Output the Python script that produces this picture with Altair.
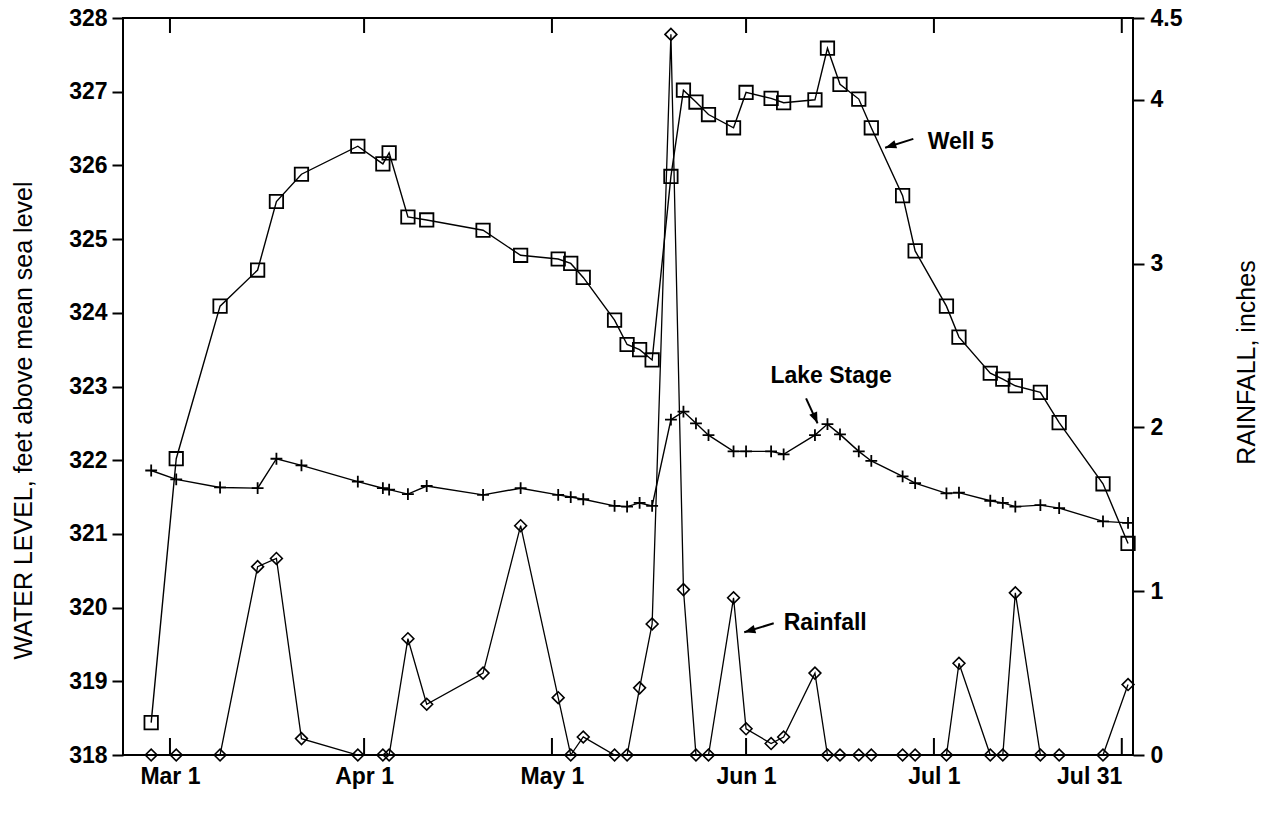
import altair as alt
import pandas as pd

# ---------------- data ----------------
dates = [
    "1983-02-26", "1983-03-02", "1983-03-09", "1983-03-15", "1983-03-18", "1983-03-22",
    "1983-03-31", "1983-04-04", "1983-04-05", "1983-04-08", "1983-04-11", "1983-04-20",
    "1983-04-26", "1983-05-02", "1983-05-04", "1983-05-06", "1983-05-11", "1983-05-13",
    "1983-05-15", "1983-05-17", "1983-05-20", "1983-05-22", "1983-05-24", "1983-05-26",
    "1983-05-30", "1983-06-01", "1983-06-05", "1983-06-07", "1983-06-12", "1983-06-14",
    "1983-06-16", "1983-06-19", "1983-06-21", "1983-06-26", "1983-06-28", "1983-07-03",
    "1983-07-05", "1983-07-10", "1983-07-12", "1983-07-14", "1983-07-18", "1983-07-21",
    "1983-07-28", "1983-08-01",
]
well5 = [
    318.44, 322.02, 324.09, 324.58, 325.51, 325.88,
    326.26, 326.02, 326.17, 325.30, 325.26, 325.12,
    324.78, 324.73, 324.67, 324.48, 323.90, 323.57,
    323.50, 323.36, 325.85, 327.02, 326.86, 326.69,
    326.51, 326.99, 326.91, 326.85, 326.89, 327.59,
    327.10, 326.90, 326.51, 325.59, 324.84, 324.09,
    323.67, 323.18, 323.10, 323.01, 322.92, 322.51,
    321.68, 320.87,
]
lake_stage = [
    321.86, 321.74, 321.63, 321.62, 322.02, 321.93,
    321.71, 321.62, 321.60, 321.54, 321.65, 321.53,
    321.62, 321.53, 321.50, 321.47, 321.38, 321.37,
    321.42, 321.38, 322.55, 322.66, 322.50, 322.34,
    322.12, 322.12, 322.12, 322.08, 322.34, 322.49,
    322.35, 322.12, 321.99, 321.78, 321.69, 321.55,
    321.56, 321.45, 321.42, 321.37, 321.39, 321.35,
    321.17, 321.15,
]
rainfall = [
    0.00, 0.00, 0.00, 1.15, 1.20, 0.10,
    0.00, 0.00, 0.00, 0.71, 0.31, 0.50,
    1.40, 0.35, 0.00, 0.11, 0.00, 0.00,
    0.41, 0.80, 4.40, 1.01, 0.00, 0.00,
    0.96, 0.16, 0.07, 0.11, 0.50, 0.00,
    0.00, 0.00, 0.00, 0.00, 0.00, 0.00,
    0.56, 0.00, 0.00, 0.99, 0.00, 0.00,
    0.00, 0.43,
]

tick_dates = ["1983-03-01", "1983-04-01", "1983-05-01", "1983-06-01", "1983-07-01", "1983-07-31"]
level_ticks = [318, 319, 320, 321, 322, 323, 324, 325, 326, 327, 328]
rain_ticks = [0, 1, 2, 3, 4, 4.5]

# labels placed in the plot (text, anchor date, value)
label_text = ["Well 5", "Lake Stage"]
label_date = ["1983-06-30T00:00:00Z", "1983-06-14T14:00:00Z"]
label_value = [326.32, 323.14]
label_align = ["left", "center"]

rain_label_text = ["Rainfall"]
rain_label_date = ["1983-06-07T00:00:00Z"]
rain_label_value = [0.806]

# arrows: tail -> head
arrow_tail_date = ["1983-06-27T17:00:00Z", "1983-06-10T14:00:00Z"]
arrow_tail_value = [326.36, 322.84]
arrow_head_date = ["1983-06-23T05:00:00Z", "1983-06-12T10:00:00Z"]
arrow_head_value = [326.24, 322.50]
arrow_angle = [252, 157]

rain_arrow_tail_date = ["1983-06-05T10:00:00Z"]
rain_arrow_tail_value = [0.804]
rain_arrow_head_date = ["1983-05-31T17:00:00Z"]
rain_arrow_head_value = [0.749]
rain_arrow_angle = [253]

# ---------------- tables ----------------
df = pd.DataFrame({"date": dates, "well5": well5, "lake": lake_stage, "rain": rainfall})
ticks_df = pd.DataFrame({"date": tick_dates})
labels_df = pd.DataFrame({"date": label_date, "value": label_value, "text": label_text, "align": label_align})
arrows_df = pd.DataFrame({"d1": arrow_tail_date, "v1": arrow_tail_value,
                          "d2": arrow_head_date, "v2": arrow_head_value, "angle": arrow_angle})
rain_labels_df = pd.DataFrame({"date": rain_label_date, "value": rain_label_value, "text": rain_label_text})
rain_arrows_df = pd.DataFrame({"d1": rain_arrow_tail_date, "v1": rain_arrow_tail_value,
                               "d2": rain_arrow_head_date, "v2": rain_arrow_head_value,
                               "angle": rain_arrow_angle})

W, H = 1010, 737
FONT = "Liberation Sans"

xscale = alt.Scale(type="utc",
                   domain=[alt.DateTime(year=1983, month=2, date=21, hours=12, utc=True),
                           alt.DateTime(year=1983, month=8, date=1, hours=19, utc=True)])
lscale = alt.Scale(domain=[318, 328], nice=False, zero=False)
rscale = alt.Scale(domain=[0, 4.5], nice=False, zero=False)

tick_vals = [alt.DateTime(year=1983, month=int(d[5:7]), date=int(d[8:10]), utc=True) for d in tick_dates]

x_axis = alt.Axis(values=tick_vals, labelExpr="utcFormat(datum.value, '%b %-d')",
                  ticks=False, domain=False, grid=False, labelPadding=10, labelFlush=20,
                  labelFontSize=23, labelFont=FONT, labelFontWeight="bold", labelColor="black",
                  title="")
left_axis = alt.Axis(values=level_ticks, format="d", orient="left", grid=False, tickSize=11,
                     tickWidth=2, tickColor="black", domain=False, labelPadding=5,
                     labelFontSize=23, labelFont=FONT, labelFontWeight="bold", labelColor="black",
                     title="WATER LEVEL, feet above mean sea level", titleFont=FONT,
                     titleFontSize=25, titleFontWeight="normal", titleColor="black",
                     titlePadding=32, titleY=402)
right_axis = alt.Axis(values=rain_ticks, format=".1~f", orient="right", grid=False, tickSize=11,
                      tickWidth=2, tickColor="black", domain=False, labelPadding=6,
                      labelFontSize=23, labelFont=FONT, labelFontWeight="bold", labelColor="black",
                      title="RAINFALL, inches", titleFont=FONT, titleFontSize=25,
                      titleFontWeight="normal", titleColor="black", titleAngle=270,
                      titlePadding=78, titleY=344)


def X(f):
    return alt.X(f, type="temporal", scale=xscale, axis=x_axis)


def YL(f):
    return alt.Y(f, type="quantitative", scale=lscale, axis=left_axis)


def YR(f):
    return alt.Y(f, type="quantitative", scale=rscale, axis=right_axis)


base = alt.Chart(df)

well_line = base.mark_line(color="black", strokeWidth=1.4).encode(x=X("date"), y=YL("well5"))
well_pts = base.mark_point(shape="square", size=180, filled=False, color="black",
                           strokeWidth=1.8, opacity=1).encode(x=X("date"), y=YL("well5"))
lake_line = base.mark_line(color="black", strokeWidth=1.4).encode(x=X("date"), y=YL("lake"))
lake_pts = base.mark_point(shape="M-1,0L1,0M0,-1L0,1", size=140, filled=False, color="black",
                           strokeWidth=1.8, opacity=1).encode(x=X("date"), y=YL("lake"))

top_ticks = alt.Chart(ticks_df).mark_rule(color="black", strokeWidth=2).encode(
    x=X("date"), y=alt.value(0), y2=alt.value(15))
bottom_ticks = alt.Chart(ticks_df).mark_rule(color="black", strokeWidth=2).encode(
    x=X("date"), y=alt.value(H - 17), y2=alt.value(H))

labels_left = alt.Chart(labels_df).transform_filter("datum.align == 'left'").mark_text(
    font=FONT, fontSize=23, fontWeight="bold", color="black", baseline="middle", align="left"
).encode(x=X("date"), y=YL("value"), text="text:N")
labels_center = alt.Chart(labels_df).transform_filter("datum.align == 'center'").mark_text(
    font=FONT, fontSize=23, fontWeight="bold", color="black", baseline="middle", align="center"
).encode(x=X("date"), y=YL("value"), text="text:N")

arrow_shafts = alt.Chart(arrows_df).mark_rule(color="black", strokeWidth=2).encode(
    x=X("d1"), y=YL("v1"), x2="d2:T", y2="v2:Q")
ARROW = "M0,0L0.38,1L-0.38,1Z"
arrow_heads = alt.Chart(arrows_df).mark_point(shape=ARROW, size=500, filled=True, color="black",
                                              opacity=1).encode(
    x=X("d2"), y=YL("v2"), angle=alt.Angle("angle:Q", scale=None))

left = alt.layer(well_line, lake_line, well_pts, lake_pts, top_ticks, bottom_ticks,
                 labels_left, labels_center, arrow_shafts, arrow_heads)

rain_line = base.mark_line(color="black", strokeWidth=1.3).encode(x=X("date"), y=YR("rain"))
rain_pts = base.mark_point(shape="diamond", size=140, filled=False, color="black",
                           strokeWidth=1.6, opacity=1).encode(x=X("date"), y=YR("rain"))
rain_label = alt.Chart(rain_labels_df).mark_text(font=FONT, fontSize=23, fontWeight="bold",
                                                 color="black", baseline="middle",
                                                 align="left").encode(
    x=X("date"), y=YR("value"), text="text:N")
rain_shaft = alt.Chart(rain_arrows_df).mark_rule(color="black", strokeWidth=2).encode(
    x=X("d1"), y=YR("v1"), x2="d2:T", y2="v2:Q")
rain_head = alt.Chart(rain_arrows_df).mark_point(shape=ARROW, size=500, filled=True,
                                                 color="black", opacity=1).encode(
    x=X("d2"), y=YR("v2"), angle=alt.Angle("angle:Q", scale=None))

right = alt.layer(rain_line, rain_pts, rain_label, rain_shaft, rain_head)

chart = alt.layer(left, right).resolve_scale(y="independent").properties(
    width=W, height=H,
    padding={"left": 123, "top": 18, "right": 146, "bottom": 61},
    autosize=alt.AutoSizeParams(type="none"),
    background="white",
).configure_view(stroke="black", strokeWidth=2)

chart.save("out.html", embed_options={"renderer": "svg", "actions": False})
